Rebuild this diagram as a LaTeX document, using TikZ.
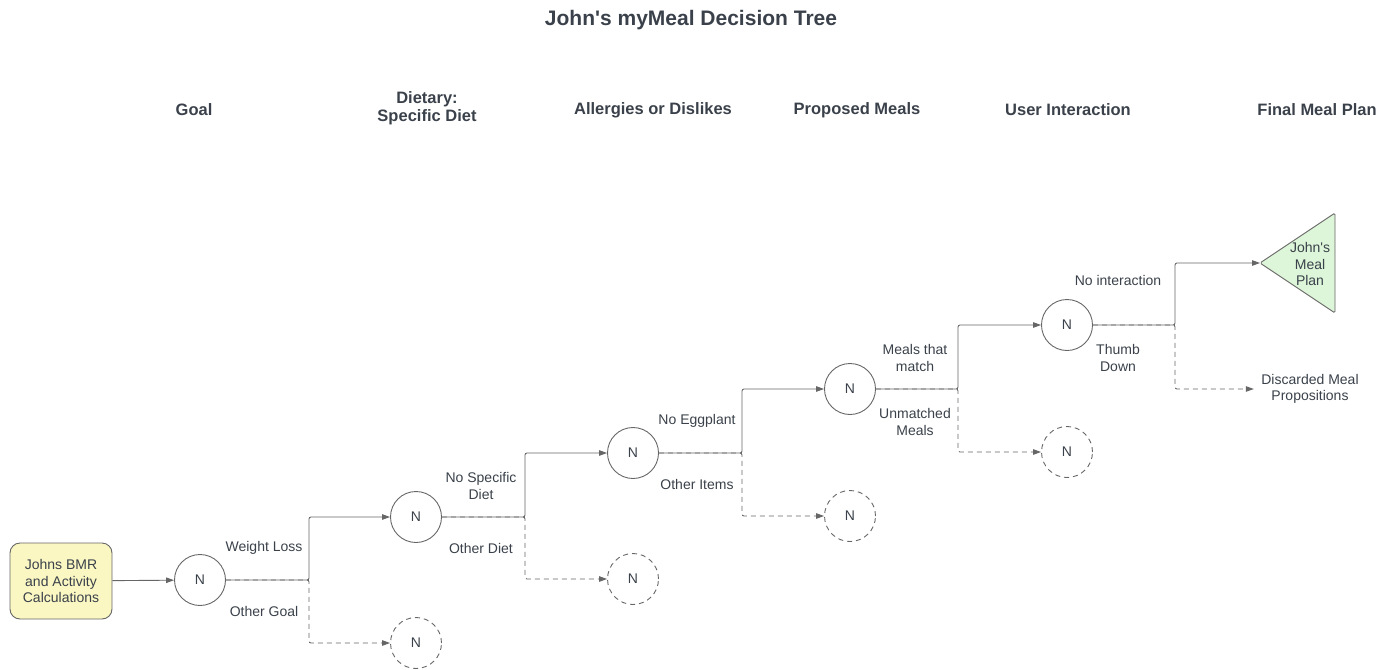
\documentclass[tikz,border=0pt]{standalone}
\usepackage{fontspec}
\setmainfont{Liberation Sans}
\usetikzlibrary{arrows.meta}
\definecolor{txt}{HTML}{3A414A}
\definecolor{ln}{HTML}{666666}
\definecolor{startfill}{HTML}{FAF7C3}
\definecolor{endfill}{HTML}{DDF5D8}
\tikzset{
  every node/.style={text=txt, font=\fontsize{14}{16.5}\selectfont},
  nd/.style={circle, draw=ln, line width=0.9pt, minimum size=51pt, inner sep=0pt, font=\fontsize{14}{16}\selectfont},
  dnd/.style={nd, dash pattern=on 5pt off 4pt},
  hdr/.style={font=\bfseries\fontsize{16.5}{18.5}\selectfont, align=center},
  lbl/.style={align=center},
  con/.style={draw=ln, line width=0.9pt, rounded corners=2pt, -{Triangle[length=8pt,width=5.5pt]}, color=ln},
  dcon/.style={con, dash pattern=on 5pt off 4pt},
}
\begin{document}
\begin{tikzpicture}[x=1pt,y=-1pt]
\useasboundingbox (0,0) rectangle (1383,669);
% title and headers
\node[font=\bfseries\fontsize{21}{24}\selectfont] (title) at (691,20) {John\textquotesingle s myMeal Decision Tree};
\node[hdr] (h1) at (194,110) {Goal};
\node[hdr] (h2) at (427,108) {Dietary:\\Specific Diet};
\node[hdr] (h3) at (653,110) {Allergies or Dislikes};
\node[hdr] (h4) at (857,110) {Proposed Meals};
\node[hdr] (h5) at (1068,110) {User Interaction};
\node[hdr] (h6) at (1317,110) {Final Meal Plan};
% start
\node[draw=ln, line width=0.9pt, fill=startfill, rounded corners=10pt, minimum width=102pt, minimum height=76pt, align=center, font=\fontsize{14}{16.5}\selectfont] (start) at (61,581) {Johns BMR\\and Activity\\Calculations};
% circles
\node[nd] (n1) at (200,580) {N};
\node[nd] (n2) at (416,517) {N};
\node[dnd] (d1) at (416,643) {N};
\node[nd] (n3) at (633,453) {N};
\node[dnd] (d2) at (633,579) {N};
\node[nd] (n4) at (850,389) {N};
\node[dnd] (d3) at (850,516) {N};
\node[nd] (n5) at (1067,325) {N};
\node[dnd] (d4) at (1067,452) {N};
% final triangle
\coordinate (ttip) at (1260,263);
\draw[ln, line width=0.9pt, fill=endfill, rounded corners=1.5pt] (ttip) -- (1335,213) -- (1335,313) -- cycle;
\node[lbl] (plan) at (1310,264) {John\textquotesingle s\\Meal\\Plan};
\node[lbl] (disc) at (1310,389) {Discarded Meal\\Propositions};
% junctions
\coordinate (j1) at (309,580);
\coordinate (j2) at (525,517);
\coordinate (j3) at (742,453);
\coordinate (j4) at (958,389);
\coordinate (j5) at (1175,325);
% connectors
\draw[con] (start) -- (n1);
\draw[dcon] (n1.east) -- (j1) |- (d1.west);
\draw[con] (n1.east) -- (j1) |- (n2.west);
\draw[dcon] (n2.east) -- (j2) |- (d2.west);
\draw[con] (n2.east) -- (j2) |- (n3.west);
\draw[dcon] (n3.east) -- (j3) |- (d3.west);
\draw[con] (n3.east) -- (j3) |- (n4.west);
\draw[dcon] (n4.east) -- (j4) |- (d4.west);
\draw[con] (n4.east) -- (j4) |- (n5.west);
\draw[dcon] (n5.east) -- (j5) |- ([xshift=-4pt]disc.west);
\draw[con] (n5.east) -- (j5) |- (ttip);
% labels
\node[lbl] (l1) at (264,548) {Weight Loss};
\node[lbl] (l2) at (264,611) {Other Goal};
\node[lbl] (l3) at (481,486) {No Specific\\Diet};
\node[lbl] (l4) at (481,548) {Other Diet};
\node[lbl] (l5) at (697,421) {No Eggplant};
\node[lbl] (l6) at (697,484) {Other Items};
\node[lbl] (l7) at (915,358) {Meals that\\match};
\node[lbl] (l8) at (915,422) {Unmatched\\Meals};
\node[lbl] (l9) at (1118,280) {No interaction};
\node[lbl] (l10) at (1118,358) {Thumb\\Down};
\end{tikzpicture}
\end{document}
